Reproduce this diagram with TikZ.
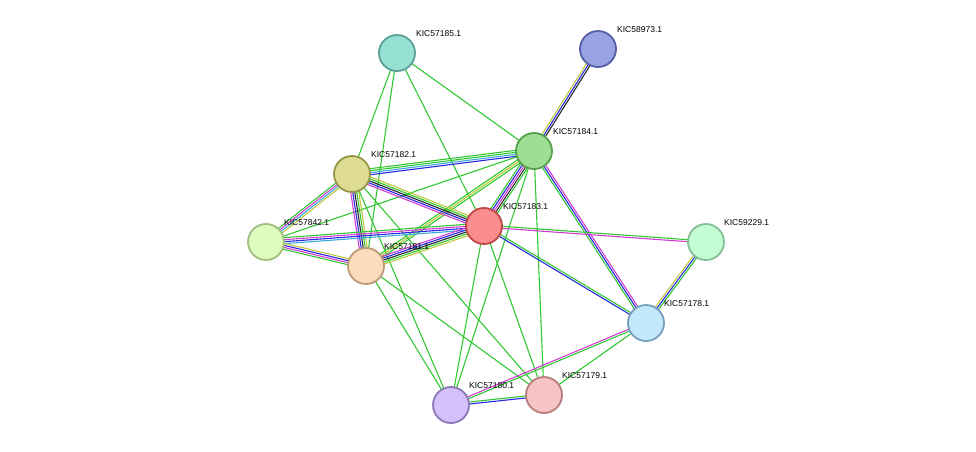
\documentclass[tikz,border=0pt]{standalone}
\usepackage{fontspec}
\setmainfont{Liberation Sans}
\usetikzlibrary{calc}
\definecolor{eg}{RGB}{50,200,50}
\definecolor{eb}{RGB}{40,40,230}
\definecolor{em}{RGB}{210,60,210}
\definecolor{ey}{RGB}{190,200,60}
\definecolor{ec}{RGB}{60,170,220}
\definecolor{ek}{RGB}{40,40,40}
\tikzset{
  prot/.style={circle, minimum size=36pt, inner sep=0pt, line width=1.8pt},
  lab/.style={anchor=south west, font=\fontsize{8.5}{10}\selectfont, inner sep=1pt},
}
\newcommand\medge[3]{%
  \foreach \c/\o in {#3}{%
    \draw[\c, line width=1.1pt] ($(#1)!\o pt!90:(#2)$) -- ($(#2)!\o pt!-90:(#1)$);}}
\begin{document}
\begin{tikzpicture}[x=1pt,y=-1pt]
\useasboundingbox (0,0) rectangle (976,451);
\coordinate (n85) at (397,53);
\coordinate (n73) at (598,49);
\coordinate (n84) at (534,151);
\coordinate (n82) at (352,174);
\coordinate (n83) at (484,226);
\coordinate (n42) at (266,242);
\coordinate (n81) at (366,266);
\coordinate (n29) at (706,242);
\coordinate (n78) at (646,323);
\coordinate (n80) at (451,405);
\coordinate (n79) at (544,395);
% edges
\medge{n73}{n84}{ey/-2,eb/0,ek/2}
\medge{n85}{n82}{eg/0}
\medge{n85}{n81}{eg/0}
\medge{n85}{n83}{eg/0}
\medge{n85}{n84}{eg/0}
\medge{n84}{n82}{eg/-3,eg/-1,ec/1,eb/3}
\medge{n84}{n83}{eg/-4,eb/-2,em/0,ek/2,eg/4}
\medge{n84}{n81}{eg/-2,ey/0,eg/2}
\medge{n84}{n42}{eg/0}
\medge{n84}{n78}{eg/-2,eb/0,em/2}
\medge{n84}{n79}{eg/0}
\medge{n84}{n80}{eg/0}
\medge{n82}{n83}{em/-4,eb/-2,ek/0,eg/2,ey/4}
\medge{n82}{n42}{eg/-3,em/-1,ec/1,ey/3}
\medge{n82}{n81}{em/-4,eb/-2,ek/0,eg/2,ey/4}
\medge{n82}{n80}{eg/0}
\medge{n82}{n79}{eg/0}
\medge{n83}{n42}{eg/-3,em/-1,eb/1,ec/3}
\medge{n83}{n81}{em/-4,eb/-2,ek/0,eg/2,ey/4}
\medge{n83}{n29}{em/-1,eg/1}
\medge{n83}{n78}{eb/-1,eg/1}
\medge{n83}{n80}{eg/0}
\medge{n83}{n79}{eg/0}
\medge{n42}{n81}{eg/-3,em/-1,eb/1,ey/3}
\medge{n81}{n80}{eg/0}
\medge{n81}{n79}{eg/0}
\medge{n29}{n78}{ey/-2,eb/0,eg/2}
\medge{n78}{n80}{em/-1,eg/1}
\medge{n78}{n79}{eg/0}
\medge{n80}{n79}{eb/-1,eg/1}
% nodes
\node[prot, fill={rgb,255:red,150;green,224;blue,212}, draw={rgb,255:red,90;green,160;blue,150}] (a85) at (n85) {};
\node[prot, fill={rgb,255:red,152;green,163;blue,226}, draw={rgb,255:red,85;green,95;blue,165}] (a73) at (n73) {};
\node[prot, fill={rgb,255:red,158;green,222;blue,146}, draw={rgb,255:red,85;green,160;blue,75}] (a84) at (n84) {};
\node[prot, fill={rgb,255:red,222;green,220;blue,148}, draw={rgb,255:red,150;green,150;blue,75}] (a82) at (n82) {};
\node[prot, fill={rgb,255:red,250;green,142;blue,142}, draw={rgb,255:red,190;green,70;blue,70}] (a83) at (n83) {};
\node[prot, fill={rgb,255:red,222;green,252;blue,190}, draw={rgb,255:red,160;green,190;blue,125}] (a42) at (n42) {};
\node[prot, fill={rgb,255:red,252;green,220;blue,188}, draw={rgb,255:red,190;green,155;blue,120}] (a81) at (n81) {};
\node[prot, fill={rgb,255:red,196;green,252;blue,212}, draw={rgb,255:red,130;green,190;blue,150}] (a29) at (n29) {};
\node[prot, fill={rgb,255:red,196;green,232;blue,252}, draw={rgb,255:red,120;green,160;blue,190}] (a78) at (n78) {};
\node[prot, fill={rgb,255:red,212;green,192;blue,250}, draw={rgb,255:red,140;green,120;blue,180}] (a80) at (n80) {};
\node[prot, fill={rgb,255:red,246;green,196;blue,196}, draw={rgb,255:red,185;green,125;blue,125}] (a79) at (n79) {};
% labels
\node[lab] (l85) at (415,38) {KIC57185.1};
\node[lab] (l73) at (616,34) {KIC58973.1};
\node[lab] (l84) at (552,136) {KIC57184.1};
\node[lab] (l82) at (370,159) {KIC57182.1};
\node[lab] (l83) at (502,211) {KIC57183.1};
\node[lab] (l42) at (283,227) {KIC57842.1};
\node[lab] (l81) at (383,251) {KIC57181.1};
\node[lab] (l29) at (723,227) {KIC59229.1};
\node[lab] (l78) at (663,308) {KIC57178.1};
\node[lab] (l80) at (468,390) {KIC57180.1};
\node[lab] (l79) at (561,380) {KIC57179.1};
\end{tikzpicture}
\end{document}
